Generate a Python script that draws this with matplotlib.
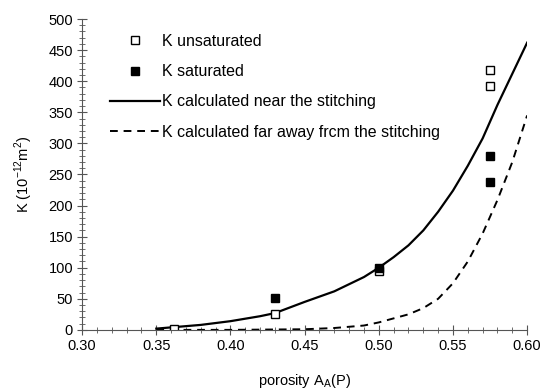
import matplotlib
matplotlib.use("Agg")
import matplotlib.pyplot as plt
from matplotlib.ticker import MultipleLocator, FormatStrFormatter

plt.rcParams['font.family'] = ['Liberation Sans', 'DejaVu Sans']

# measured permeability
unsat_x = [0.362, 0.430, 0.500, 0.575, 0.575]
unsat_k = [2, 26, 95, 418, 392]
sat_x = [0.430, 0.500, 0.575, 0.575]
sat_k = [52, 100, 279, 238]

# calculated curves
near_x = [0.35, 0.36, 0.38, 0.40, 0.42, 0.43, 0.45, 0.47, 0.49, 0.50,
          0.51, 0.52, 0.53, 0.54, 0.55, 0.56, 0.57, 0.575, 0.58, 0.59, 0.60]
near_k = [2, 4, 8, 14, 22, 27, 45, 62, 85, 100,
          117, 136, 160, 190, 224, 264, 308, 335, 362, 412, 462]
far_x = [0.35, 0.40, 0.45, 0.47, 0.49, 0.50, 0.52, 0.53, 0.54, 0.55,
         0.56, 0.57, 0.58, 0.59, 0.60]
far_k = [0, 0, 1, 3, 7, 12, 25, 35, 50, 75,
         110, 155, 209, 270, 345]

fig = plt.figure(figsize=(5.44, 3.89), dpi=100)
ax = fig.add_axes([0.151, 0.152, 0.818, 0.799])

ax.plot(near_x, near_k, color='black', lw=1.6, label='K calculated near the stitching')
ax.plot(far_x, far_k, color='black', lw=1.4, ls=(0, (4, 3)),
        label='K calculated far away frcm the stitching')
ax.plot(unsat_x, unsat_k, ls='none', marker='s', ms=6, mfc='white', mec='black',
        mew=1.0, label='K unsaturated')
ax.plot(sat_x, sat_k, ls='none', marker='s', ms=6, mfc='black', mec='black',
        label='K saturated')

ax.set_xlim(0.30, 0.60)
ax.set_ylim(0, 500)
ax.xaxis.set_major_locator(MultipleLocator(0.05))
ax.xaxis.set_minor_locator(MultipleLocator(0.01))
ax.yaxis.set_major_locator(MultipleLocator(50))
ax.yaxis.set_minor_locator(MultipleLocator(10))
ax.xaxis.set_major_formatter(FormatStrFormatter('%.2f'))
ax.tick_params(which='major', direction='inout', length=7, width=0.8,
               color='#555555', labelsize=10.5, pad=3)
ax.tick_params(which='minor', direction='inout', length=4, width=0.6, color='#555555')

for s in ['top', 'right']:
    ax.spines[s].set_visible(False)
for s in ['left', 'bottom']:
    ax.spines[s].set_color('#555555')

ax.set_xlabel('porosity A$_\\mathregular{A}$(P)', fontsize=10.5, labelpad=14)
ax.set_ylabel('K (10$^\\mathregular{-12}$m$^\\mathregular{2}$)', fontsize=10.5, labelpad=10)

handles, labels = ax.get_legend_handles_labels()
order = [2, 3, 0, 1]
ax.legend([handles[i] for i in order], [labels[i] for i in order],
          loc='upper left', bbox_to_anchor=(0.063, 0.952), frameon=False,
          borderpad=0, borderaxespad=0, fontsize=11.5, handlelength=3.1,
          labelspacing=0.95, handletextpad=0.15)

fig.savefig('out.png', dpi=100)
